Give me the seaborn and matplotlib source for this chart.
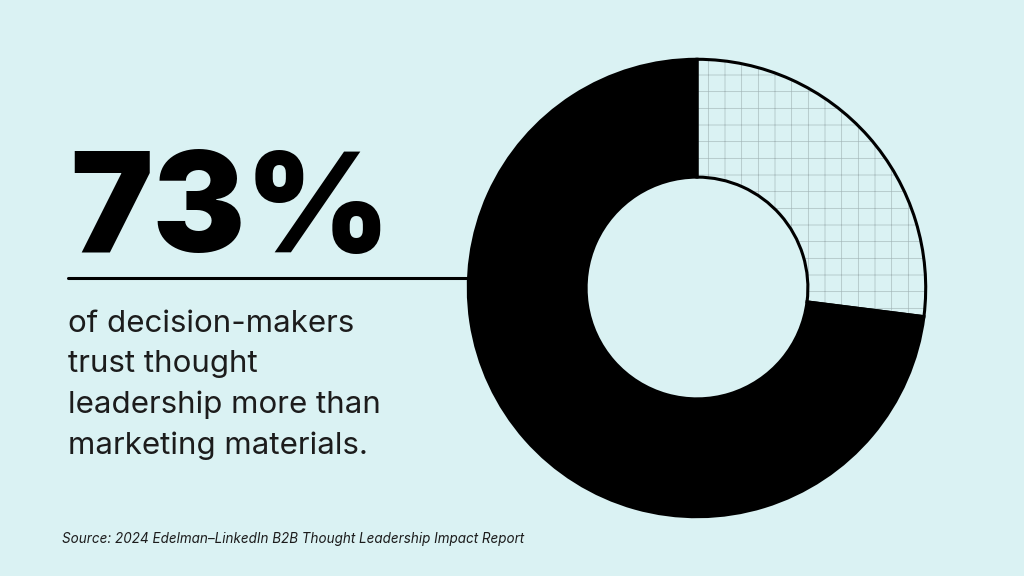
import matplotlib
matplotlib.use("Agg")
import matplotlib.pyplot as plt
import seaborn as sns

# =============================================================================
# DATA
# =============================================================================
segment_labels = ["Other", "Trust thought leadership more"]
segment_values = [27, 73]
headline = "73%"
body_lines = ["of decision-makers", "trust thought", "leadership more than", "marketing materials."]
source_text = "Source: 2024 Edelman\u2013LinkedIn B2B Thought Leadership Impact Report"

BG = "#daf2f3"

sns.set_theme(style="white", rc={"figure.facecolor": BG, "axes.facecolor": BG})
plt.rcParams["font.family"] = ["Inter", "Roboto", "DejaVu Sans"]
plt.rcParams["hatch.linewidth"] = 0.5

fig = plt.figure(figsize=(10.24, 5.76), dpi=100)
W, H = 1024, 576

# donut axes: centre (697, 288) px, radius 231 px
cx, cy, r = 697, 288, 231
ax = fig.add_axes([(cx - r) / W, (H - cy - r) / H, 2 * r / W, 2 * r / H])
ax.set_facecolor("none")

inner = 112 / 231
wedges, _ = ax.pie(
    segment_values,
    startangle=90,
    counterclock=False,
    colors=[BG, "black"],
    radius=1,
    wedgeprops=dict(width=1 - inner, edgecolor="#a9bcbe", linewidth=0),
)
wedges[0].set_hatch("+")
# outlines on top
ax.pie(
    segment_values,
    startangle=90,
    counterclock=False,
    colors=["none", "none"],
    radius=1,
    wedgeprops=dict(width=1 - inner, edgecolor="black", linewidth=2.2),
)
ax.set_xlim(-1.01, 1.01)
ax.set_ylim(-1.01, 1.01)
ax.set_aspect("equal")
ax.axis("off")

# =============================================================================
# TEXT
# =============================================================================
fig.text(70 / W, 1 - 252 / H, headline, fontsize=100, fontweight="black",
         color="black", ha="left", va="baseline")

fig.add_artist(plt.Line2D([68 / W, 468 / W], [1 - 278 / H, 1 - 278 / H],
                          color="black", linewidth=2.2))

for i, line in enumerate(body_lines):
    fig.text(68 / W, 1 - (332 + i * 40.5) / H, line, fontsize=22.5,
             color="#1c1c1c", ha="left", va="baseline")

fig.text(62 / W, 1 - 543 / H, source_text, fontsize=9.7, style="italic",
         color="#1c1c1c", ha="left", va="baseline")

fig.savefig("out.png", dpi=100, facecolor=BG)
